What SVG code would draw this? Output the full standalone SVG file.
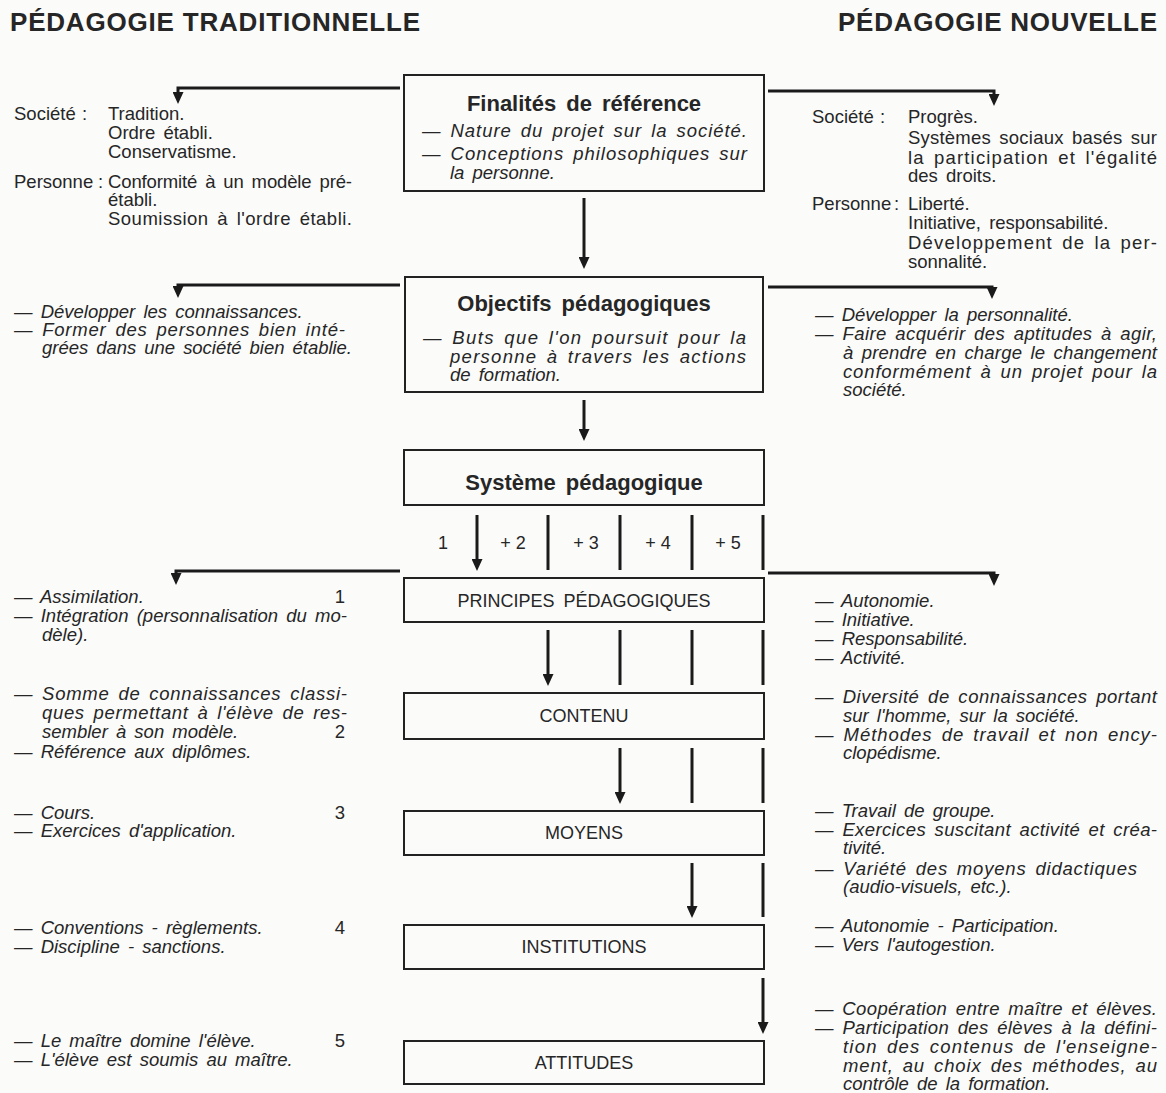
<svg xmlns="http://www.w3.org/2000/svg" width="1166" height="1093" viewBox="0 0 1166 1093">
<style>
text{font-family:"Liberation Sans",Arial,sans-serif;fill:#262626;}
.h{font-size:26px;font-weight:bold;}
.t{font-size:18.5px;word-spacing:3px;}
.i{font-size:18.5px;font-style:italic;word-spacing:3px;}
.b{font-size:22px;font-weight:bold;text-anchor:middle;word-spacing:4px;}
.c{font-size:18px;text-anchor:middle;word-spacing:4px;}
.n{font-size:18.5px;text-anchor:end;}
.m{font-size:18px;text-anchor:middle;}
.box{fill:none;stroke:#222;stroke-width:2;}
.ln{fill:none;stroke:#1a1a1a;stroke-width:3;stroke-linejoin:miter;}
.ar{marker-end:url(#ah);}
</style>
<defs>
<marker id="ah" markerUnits="userSpaceOnUse" markerWidth="12" markerHeight="11" viewBox="0 0 12 11" refX="6" refY="5.5" orient="auto">
<path d="M0,0 L12,5.5 L0,11 z" fill="#1a1a1a"/>
</marker>
</defs>
<rect width="1166" height="1093" fill="#fbfbfa"/>

<g id="headers">
<text class="h" x="10" y="31" textLength="410" lengthAdjust="spacing">PÉDAGOGIE TRADITIONNELLE</text>
<text class="h" x="838" y="31" textLength="319" lengthAdjust="spacing">PÉDAGOGIE NOUVELLE</text>
</g>

<g id="connectors">
<path class="ln ar" d="M584,198 V263"/>
<path class="ln ar" d="M584,400 V435"/>
<path class="ln ar" d="M400,88 H178 V98"/>
<path class="ln ar" d="M768,91 H994 V100"/>
<path class="ln ar" d="M400,285 H178 V292"/>
<path class="ln ar" d="M768,287 H992 V293"/>
<path class="ln ar" d="M400,571 H176 V579"/>
<path class="ln ar" d="M768,573 H994 V580"/>
<path class="ln ar" d="M477,515 V565"/>
<path class="ln" d="M548,515 V570 M620,515 V570 M692,515 V570 M763,515 V570"/>
<path class="ln ar" d="M548,630 V680"/>
<path class="ln" d="M620,630 V685 M692,630 V685 M763,630 V685"/>
<path class="ln ar" d="M620,748 V798"/>
<path class="ln" d="M692,748 V803 M763,748 V803"/>
<path class="ln ar" d="M692,863 V912"/>
<path class="ln" d="M763,863 V917"/>
<path class="ln ar" d="M763,978 V1028"/>
</g>

<g id="finalites">
<rect class="box" x="404" y="75" width="360" height="116"/>
<text class="b" x="584" y="111">Finalités de référence</text>
<text class="i" x="422" y="137" textLength="325" lengthAdjust="spacing">— Nature du projet sur la société.</text>
<text class="i" x="422" y="160" textLength="325" lengthAdjust="spacing">— Conceptions philosophiques sur</text>
<text class="i" x="450" y="179">la personne.</text>
</g>

<g id="finalites-trad">
<text class="t" x="14" y="120">Société</text><text class="t" x="82" y="120">:</text>
<text class="t" x="108" y="120">Tradition.</text>
<text class="t" x="108" y="139">Ordre établi.</text>
<text class="t" x="108" y="158">Conservatisme.</text>
<text class="t" x="14" y="188">Personne</text><text class="t" x="98" y="188">:</text>
<text class="t" x="108" y="188" textLength="244" lengthAdjust="spacing">Conformité à un modèle pré-</text>
<text class="t" x="108" y="206">établi.</text>
<text class="t" x="108" y="225" textLength="244" lengthAdjust="spacing">Soumission à l'ordre établi.</text>
</g>

<g id="finalites-nouv">
<text class="t" x="812" y="123">Société</text><text class="t" x="880" y="123">:</text>
<text class="t" x="908" y="123">Progrès.</text>
<text class="t" x="908" y="144" textLength="249" lengthAdjust="spacing">Systèmes sociaux basés sur</text>
<text class="t" x="908" y="164" textLength="249" lengthAdjust="spacing">la participation et l'égalité</text>
<text class="t" x="908" y="182">des droits.</text>
<text class="t" x="812" y="210">Personne</text><text class="t" x="894" y="210">:</text>
<text class="t" x="908" y="210">Liberté.</text>
<text class="t" x="908" y="229">Initiative, responsabilité.</text>
<text class="t" x="908" y="249" textLength="249" lengthAdjust="spacing">Développement de la per-</text>
<text class="t" x="908" y="268">sonnalité.</text>
</g>

<g id="objectifs">
<rect class="box" x="405" y="277" width="358" height="115"/>
<text class="b" x="584" y="311">Objectifs pédagogiques</text>
<text class="i" x="423" y="344" textLength="323" lengthAdjust="spacing">— Buts que l'on poursuit pour la</text>
<text class="i" x="450" y="363" textLength="296" lengthAdjust="spacing">personne à travers les actions</text>
<text class="i" x="450" y="381">de formation.</text>
</g>

<g id="objectifs-trad">
<text class="i" x="14" y="318">— Développer les connaissances.</text>
<text class="i" x="14" y="336" textLength="331" lengthAdjust="spacing">— Former des personnes bien inté-</text>
<text class="i" x="42" y="354" textLength="310" lengthAdjust="spacing">grées dans une société bien établie.</text>
</g>

<g id="objectifs-nouv">
<text class="i" x="815" y="321">— Développer la personnalité.</text>
<text class="i" x="815" y="340" textLength="342" lengthAdjust="spacing">— Faire acquérir des aptitudes à agir,</text>
<text class="i" x="843" y="359" textLength="314" lengthAdjust="spacing">à prendre en charge le changement</text>
<text class="i" x="843" y="378" textLength="314" lengthAdjust="spacing">conformément à un projet pour la</text>
<text class="i" x="843" y="396">société.</text>
</g>

<g id="systeme">
<rect class="box" x="404" y="450" width="360" height="55"/>
<text class="b" x="584" y="490">Système pédagogique</text>
</g>

<g id="numeros">
<text class="m" x="443" y="549">1</text>
<text class="m" x="513" y="549">+ 2</text>
<text class="m" x="586" y="549">+ 3</text>
<text class="m" x="658" y="549">+ 4</text>
<text class="m" x="728" y="549">+ 5</text>
</g>

<g id="principes">
<rect class="box" x="404" y="578" width="360" height="44"/>
<text class="c" x="584" y="607">PRINCIPES PÉDAGOGIQUES</text>
</g>
<g id="contenu">
<rect class="box" x="404" y="693" width="360" height="46"/>
<text class="c" x="584" y="722">CONTENU</text>
</g>
<g id="moyens">
<rect class="box" x="404" y="811" width="360" height="44"/>
<text class="c" x="584" y="839">MOYENS</text>
</g>
<g id="institutions">
<rect class="box" x="404" y="925" width="360" height="44"/>
<text class="c" x="584" y="953">INSTITUTIONS</text>
</g>
<g id="attitudes">
<rect class="box" x="404" y="1041" width="360" height="43"/>
<text class="c" x="584" y="1069">ATTITUDES</text>
</g>

<g id="trad-bas">
<text class="i" x="14" y="603">— Assimilation.</text>
<text class="n" x="345" y="603">1</text>
<text class="i" x="14" y="622" textLength="333" lengthAdjust="spacing">— Intégration (personnalisation du mo-</text>
<text class="i" x="42" y="641">dèle).</text>
<text class="i" x="14" y="700" textLength="333" lengthAdjust="spacing">— Somme de connaissances classi-</text>
<text class="i" x="42" y="719" textLength="305" lengthAdjust="spacing">ques permettant à l'élève de res-</text>
<text class="i" x="42" y="738">sembler à son modèle.</text>
<text class="n" x="345" y="738">2</text>
<text class="i" x="14" y="758">— Référence aux diplômes.</text>
<text class="i" x="14" y="819">— Cours.</text>
<text class="n" x="345" y="819">3</text>
<text class="i" x="14" y="837">— Exercices d'application.</text>
<text class="i" x="14" y="934">— Conventions - règlements.</text>
<text class="n" x="345" y="934">4</text>
<text class="i" x="14" y="953">— Discipline - sanctions.</text>
<text class="i" x="14" y="1047">— Le maître domine l'élève.</text>
<text class="n" x="345" y="1047">5</text>
<text class="i" x="14" y="1066">— L'élève est soumis au maître.</text>
</g>

<g id="nouv-bas">
<text class="i" x="815" y="607">— Autonomie.</text>
<text class="i" x="815" y="626">— Initiative.</text>
<text class="i" x="815" y="645">— Responsabilité.</text>
<text class="i" x="815" y="664">— Activité.</text>
<text class="i" x="815" y="703" textLength="342" lengthAdjust="spacing">— Diversité de connaissances portant</text>
<text class="i" x="843" y="722">sur l'homme, sur la société.</text>
<text class="i" x="815" y="741" textLength="342" lengthAdjust="spacing">— Méthodes de travail et non ency-</text>
<text class="i" x="843" y="759">clopédisme.</text>
<text class="i" x="815" y="817">— Travail de groupe.</text>
<text class="i" x="815" y="836" textLength="342" lengthAdjust="spacing">— Exercices suscitant activité et créa-</text>
<text class="i" x="843" y="854">tivité.</text>
<text class="i" x="815" y="875" textLength="322" lengthAdjust="spacing">— Variété des moyens didactiques</text>
<text class="i" x="843" y="893">(audio-visuels, etc.).</text>
<text class="i" x="815" y="932">— Autonomie - Participation.</text>
<text class="i" x="815" y="951">— Vers l'autogestion.</text>
<text class="i" x="815" y="1015" textLength="342" lengthAdjust="spacing">— Coopération entre maître et élèves.</text>
<text class="i" x="815" y="1034" textLength="342" lengthAdjust="spacing">— Participation des élèves à la défini-</text>
<text class="i" x="843" y="1053" textLength="314" lengthAdjust="spacing">tion des contenus de l'enseigne-</text>
<text class="i" x="843" y="1072" textLength="314" lengthAdjust="spacing">ment, au choix des méthodes, au</text>
<text class="i" x="843" y="1090">contrôle de la formation.</text>
</g>
</svg>
